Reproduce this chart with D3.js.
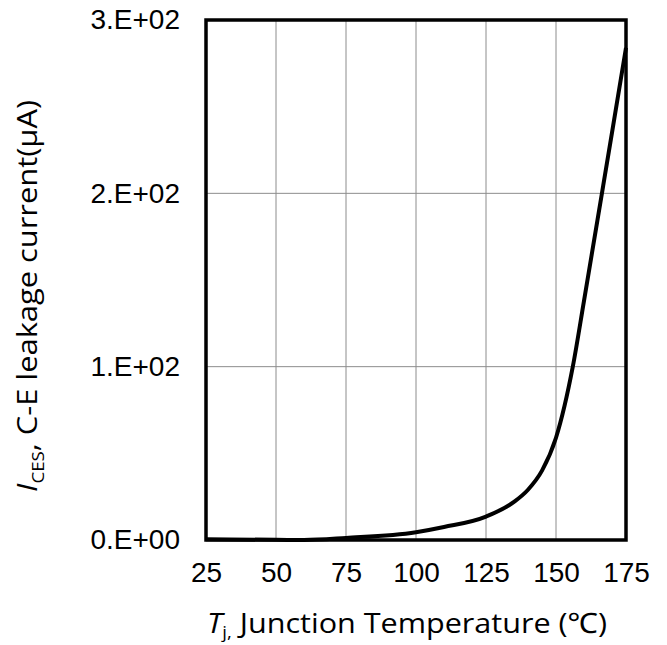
<!DOCTYPE html>
<html>
<head>
<meta charset="utf-8">
<script src="https://cdn.jsdelivr.net/npm/d3@7"></script>
<style>
  body { margin: 0; background: #fff; }
  svg { display: block; }
</style>
</head>
<body>
<div id="chart"></div>
<script>
// values
const temps = [25, 50, 60, 75, 100, 110, 125, 135, 140, 145, 150, 156, 160, 166.4, 170, 175];
const leakage = [0.5, 0.1, 0, 1.2, 4.5, 7.5, 13.5, 22, 29, 40, 59, 100, 138, 200, 235, 284];
const xTicks = [25, 50, 75, 100, 125, 150, 175];
const yTicks = [0, 100, 200, 300];
const yTickLabels = ['0.E+00', '1.E+02', '2.E+02', '3.E+02'];

const width = 667, height = 645;
const margin = {top: 20, right: 41, bottom: 105, left: 206};

const svg = d3.select('#chart').append('svg')
    .attr('width', width)
    .attr('height', height);

const innerW = width - margin.left - margin.right;
const innerH = height - margin.top - margin.bottom;

const chart = svg.append('g')
    .attr('transform', `translate(${margin.left},${margin.top})`);

const x = d3.scaleLinear().domain([25, 175]).range([0, innerW]);
const y = d3.scaleLinear().domain([0, 300]).range([innerH, 0]);

// gridlines
chart.append('g')
    .selectAll('line.vgrid')
    .data(xTicks.slice(1, -1))
    .join('line')
    .attr('x1', d => x(d)).attr('x2', d => x(d))
    .attr('y1', 0).attr('y2', innerH)
    .style('stroke', '#8c8c8c').style('stroke-width', 1);

chart.append('g')
    .selectAll('line.hgrid')
    .data(yTicks.slice(1, -1))
    .join('line')
    .attr('x1', 0).attr('x2', innerW)
    .attr('y1', d => y(d)).attr('y2', d => y(d))
    .style('stroke', '#8c8c8c').style('stroke-width', 1);

// axes (labels only)
const tickFont = '"Liberation Sans", Arial, sans-serif';

const xAxis = chart.append('g')
    .attr('transform', `translate(0,${innerH})`)
    .call(d3.axisBottom(x).tickValues(xTicks).tickSize(0).tickPadding(22));
xAxis.select('.domain').remove();
xAxis.selectAll('text')
    .style('font-family', tickFont)
    .style('font-size', '28px')
    .style('fill', '#000');

const yAxis = chart.append('g')
    .call(d3.axisLeft(y).tickValues(yTicks).tickSize(0).tickPadding(26)
        .tickFormat((d, i) => yTickLabels[i]));
yAxis.select('.domain').remove();
yAxis.selectAll('text')
    .style('font-family', tickFont)
    .style('font-size', '28px')
    .style('fill', '#000');

// curve
const line = d3.line()
    .x((d, i) => x(temps[i]))
    .y(d => y(d))
    .curve(d3.curveMonotoneX);

chart.append('path')
    .datum(leakage)
    .attr('d', line)
    .style('fill', 'none')
    .style('stroke', '#000')
    .style('stroke-width', 4);

// frame
chart.append('rect')
    .attr('x', 0).attr('y', 0)
    .attr('width', innerW).attr('height', innerH)
    .style('fill', 'none')
    .style('stroke', '#000')
    .style('stroke-width', 3.5);

// axis titles
const titleFont = '"Open Sans", "Noto Sans", sans-serif';

const xt = svg.append('text')
    .attr('x', 407).attr('y', 633)
    .attr('text-anchor', 'middle')
    .style('font-family', titleFont)
    .style('font-size', '28px')
    .attr('textLength', 400)
    .attr('lengthAdjust', 'spacingAndGlyphs');
xt.append('tspan').style('font-style', 'italic').text('T');
xt.append('tspan').attr('dy', 5).style('font-size', '17px').text('j,');
xt.append('tspan').attr('dy', -5).text(' Junction Temperature (\u2103)');

const yt = svg.append('text')
    .attr('transform', 'translate(37,296) rotate(-90)')
    .attr('text-anchor', 'middle')
    .style('font-family', titleFont)
    .style('font-size', '28px')
    .attr('textLength', 392)
    .attr('lengthAdjust', 'spacingAndGlyphs');
yt.append('tspan').style('font-style', 'italic').text('I');
yt.append('tspan').attr('dy', 7).style('font-size', '17px').text('CES');
yt.append('tspan').attr('dy', -7).text(', C-E leakage current(\u03bcA)');
</script>
</body>
</html>
